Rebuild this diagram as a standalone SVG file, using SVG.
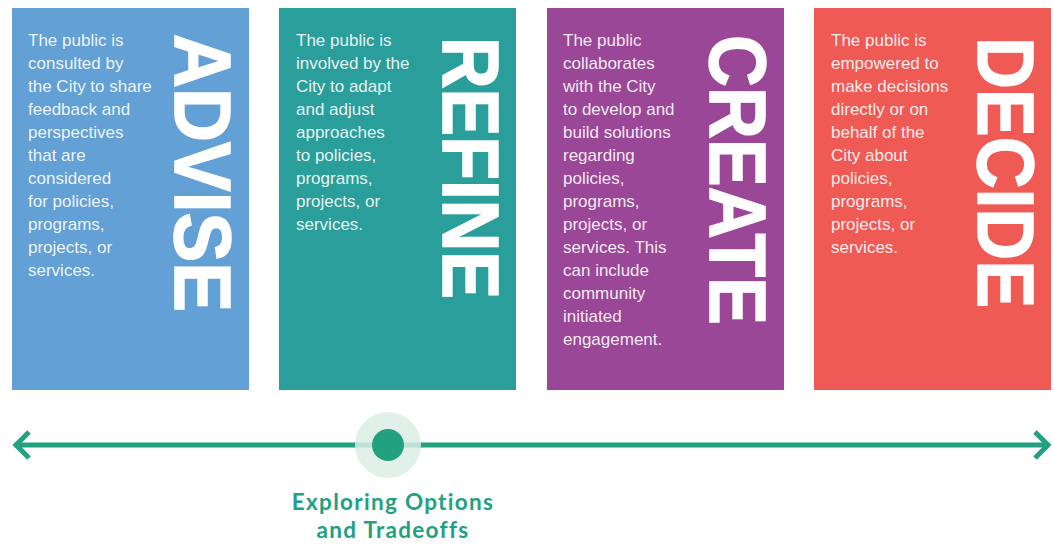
<svg xmlns="http://www.w3.org/2000/svg" width="1053" height="545" viewBox="0 0 1053 545">
<style>
.body{font-family:"Liberation Sans",Arial,sans-serif;font-size:17px;fill:#ffffff;fill-opacity:0.9}
.big{font-family:"Liberation Sans",Arial,sans-serif;font-weight:bold;font-size:80px;fill:#ffffff;stroke:#ffffff;stroke-width:1.5}
.lbl{font-family:Lato,"Liberation Sans",sans-serif;font-weight:700;font-size:22.5px;letter-spacing:1.3px;fill:#23a07f;text-anchor:middle}
</style>
<rect width="1053" height="545" fill="#ffffff"/>
<g id="advise">
<rect x="12" y="8" width="237" height="382" fill="#62a0d6"/>
<text class="body" x="28">
<tspan x="28" y="46">The public is</tspan><tspan x="28" y="69">consulted by</tspan><tspan x="28" y="92">the City to share</tspan><tspan x="28" y="115">feedback and</tspan><tspan x="28" y="138">perspectives</tspan><tspan x="28" y="161">that are</tspan><tspan x="28" y="184">considered</tspan><tspan x="28" y="207">for policies,</tspan><tspan x="28" y="230">programs,</tspan><tspan x="28" y="253">projects, or</tspan><tspan x="28" y="276">services.</tspan>
</text>
<text class="big" transform="translate(175,34) rotate(90)" textLength="278" lengthAdjust="spacingAndGlyphs">ADVISE</text>
</g>
<g id="refine">
<rect x="279" y="8" width="237" height="382" fill="#2a9e9a"/>
<text class="body">
<tspan x="296" y="46">The public is</tspan><tspan x="296" y="69">involved by the</tspan><tspan x="296" y="92">City to adapt</tspan><tspan x="296" y="115">and adjust</tspan><tspan x="296" y="138">approaches</tspan><tspan x="296" y="161">to policies,</tspan><tspan x="296" y="184">programs,</tspan><tspan x="296" y="207">projects, or</tspan><tspan x="296" y="230">services.</tspan>
</text>
<text class="big" transform="translate(443,37) rotate(90)" textLength="262" lengthAdjust="spacingAndGlyphs">REFINE</text>
</g>
<g id="create">
<rect x="547" y="8" width="237" height="382" fill="#9a4797"/>
<text class="body">
<tspan x="563" y="46">The public</tspan><tspan x="563" y="69">collaborates</tspan><tspan x="563" y="92">with the City</tspan><tspan x="563" y="115">to develop and</tspan><tspan x="563" y="138">build solutions</tspan><tspan x="563" y="161">regarding</tspan><tspan x="563" y="184">policies,</tspan><tspan x="563" y="207">programs,</tspan><tspan x="563" y="230">projects, or</tspan><tspan x="563" y="253">services. This</tspan><tspan x="563" y="276">can include</tspan><tspan x="563" y="299">community</tspan><tspan x="563" y="322">initiated</tspan><tspan x="563" y="345">engagement.</tspan>
</text>
<text class="big" transform="translate(710,35) rotate(90)" textLength="290" lengthAdjust="spacingAndGlyphs">CREATE</text>
</g>
<g id="decide">
<rect x="814" y="8" width="237" height="382" fill="#f05a55"/>
<text class="body">
<tspan x="831" y="46">The public is</tspan><tspan x="831" y="69">empowered to</tspan><tspan x="831" y="92">make decisions</tspan><tspan x="831" y="115">directly or on</tspan><tspan x="831" y="138">behalf of the</tspan><tspan x="831" y="161">City about</tspan><tspan x="831" y="184">policies,</tspan><tspan x="831" y="207">programs,</tspan><tspan x="831" y="230">projects, or</tspan><tspan x="831" y="253">services.</tspan>
</text>
<text class="big" transform="translate(978,37) rotate(90)" textLength="271" lengthAdjust="spacingAndGlyphs">DECIDE</text>
</g>
<g id="connectors" stroke="#23a07f" stroke-width="5" fill="none">
<line x1="15" y1="445" x2="1049" y2="445"/>
<polyline points="29,432 16,445 29,458"/>
<polyline points="1035,432 1048,445 1035,458"/>
</g>
<g id="marker">
<circle cx="388" cy="445" r="33" fill="#dcede5" fill-opacity="0.85"/>
<circle cx="388" cy="445" r="16" fill="#23a07f"/>
<text class="lbl"><tspan x="393" y="510">Exploring Options</tspan><tspan x="393" y="538">and Tradeoffs</tspan></text>
</g>
</svg>
